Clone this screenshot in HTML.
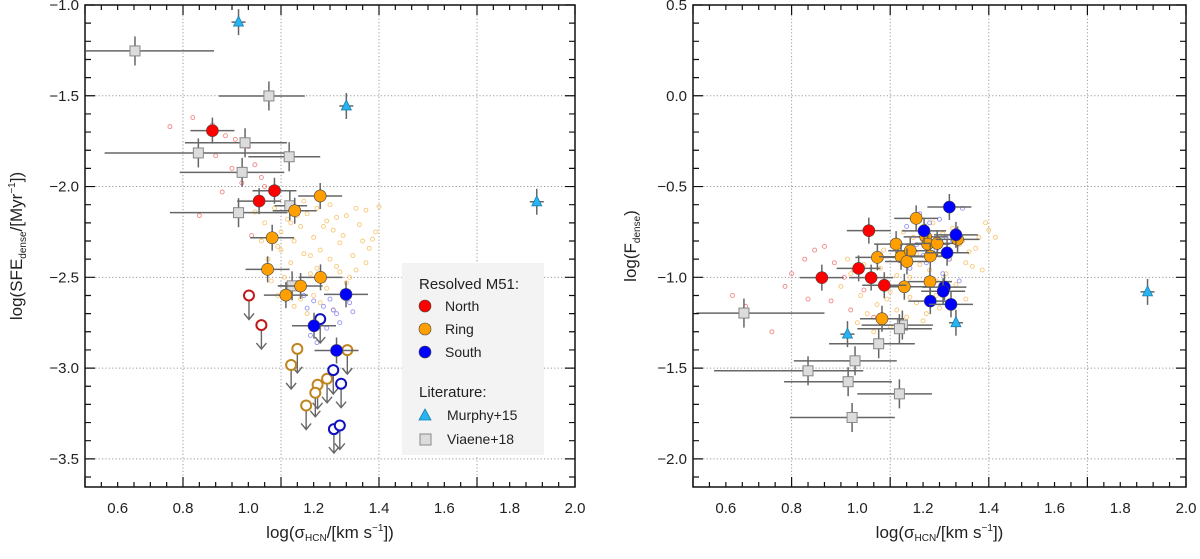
<!DOCTYPE html>
<html><head><meta charset="utf-8"><style>
html,body{margin:0;padding:0;background:#fff;}
svg{display:block;font-family:"Liberation Sans",sans-serif;}
</style></head><body>
<svg id="fig" width="1200" height="559" viewBox="0 0 1200 559"></svg>
<script>
// ---------- Left panel data: log SFE_dense ----------
const L_northX=[0.89,1.08,1.033];
const L_northY=[-1.692,-2.023,-2.08];
const L_ringX=[1.22,1.142,1.073,1.059,1.221,1.16,1.115];
const L_ringY=[-2.052,-2.133,-2.282,-2.456,-2.5,-2.548,-2.598];
const L_southX=[1.299,1.201,1.27];
const L_southY=[-2.594,-2.767,-2.903];
const L_northLimX=[1.002,1.04];
const L_northLimY=[-2.6,-2.763];
const L_ringLimX=[1.15,1.303,1.131,1.241,1.212,1.205,1.177];
const L_ringLimY=[-2.894,-2.901,-2.983,-3.059,-3.092,-3.136,-3.206];
const L_southLimX=[1.22,1.26,1.284,1.262,1.28];
const L_southLimY=[-2.73,-3.011,-3.086,-3.336,-3.316];
const L_murphyX=[0.97,1.30,1.883];
const L_murphyY=[-1.094,-1.556,-2.084];
const L_viaeneX=[0.653,1.063,0.847,0.99,1.125,0.981,0.97,1.127,1.134];
const L_viaeneY=[-1.253,-1.501,-1.815,-1.759,-1.836,-1.922,-2.144,-2.106,-2.547];
const L_viaeneXlo=[0.503,0.91,0.56,0.806,1.0,0.79,0.76,1.08,1.09];
const L_viaeneXhi=[0.895,1.173,1.12,1.118,1.22,1.11,1.12,1.18,1.18];
const L_smallRedX=[0.83,0.89,0.93,0.96,1.0,0.9,0.95,1.02,1.04,0.98,1.05,0.76,0.85,0.92,1.01];
const L_smallRedY=[-1.62,-1.66,-1.72,-1.74,-1.78,-1.83,-1.9,-1.88,-1.95,-1.98,-2.0,-1.67,-2.16,-2.03,-2.27];
const L_smallOrX=[1.02,1.05,1.08,1.1,1.12,1.14,1.16,1.18,1.2,1.22,1.24,1.26,1.28,1.3,1.32,1.34,1.36,1.38,1.4,1.06,1.09,1.13,1.17,1.21,1.25,1.29,1.33,1.37,1.11,1.15,1.19,1.23,1.27,1.31,1.35,1.12,1.16,1.2,1.24,1.28,1.07,1.14,1.18,1.22,1.26,1.3,1.1,1.13,1.17,1.21,1.25,1.04,1.19,1.23,1.36,1.39,1.15,1.09,1.27,1.33];
const L_smallOrY=[-2.14,-2.2,-2.12,-2.25,-2.18,-2.3,-2.22,-2.15,-2.28,-2.35,-2.19,-2.24,-2.31,-2.16,-2.38,-2.21,-2.13,-2.29,-2.11,-2.4,-2.33,-2.42,-2.37,-2.45,-2.4,-2.27,-2.46,-2.34,-2.5,-2.55,-2.48,-2.52,-2.44,-2.5,-2.3,-2.58,-2.62,-2.6,-2.56,-2.47,-2.52,-2.66,-2.7,-2.64,-2.68,-2.53,-2.35,-2.2,-2.08,-2.12,-2.1,-2.3,-2.38,-2.22,-2.42,-2.25,-2.16,-2.6,-2.17,-2.12];
const L_smallBlX=[1.17,1.2,1.23,1.25,1.27,1.29,1.31,1.22,1.26,1.28,1.19,1.24,1.3,1.21,1.32,1.18];
const L_smallBlY=[-2.6,-2.63,-2.66,-2.62,-2.7,-2.58,-2.64,-2.72,-2.68,-2.75,-2.82,-2.78,-2.62,-2.86,-2.69,-2.67];

// ---------- Right panel data: log F_dense ----------
const R_northX=[1.035,0.892,1.004,1.042,1.082];
const R_northY=[-0.743,-1.002,-0.951,-1.002,-1.044];
const R_ringX=[1.179,1.118,1.061,1.133,1.161,1.151,1.208,1.214,1.243,1.222,1.305,1.143,1.221,1.075];
const R_ringY=[-0.675,-0.817,-0.89,-0.887,-0.854,-0.913,-0.777,-0.817,-0.813,-0.883,-0.791,-1.052,-1.024,-1.228];
const R_southX=[1.28,1.203,1.3,1.273,1.265,1.261,1.222,1.285];
const R_southY=[-0.613,-0.744,-0.766,-0.865,-1.054,-1.077,-1.131,-1.149];
const R_murphyX=[0.97,1.30,1.883];
const R_murphyY=[-1.313,-1.25,-1.08];
const R_viaeneX=[0.655,1.137,1.128,1.065,0.993,0.85,0.972,1.128,0.984];
const R_viaeneY=[-1.197,-1.263,-1.283,-1.366,-1.46,-1.515,-1.575,-1.642,-1.772];
const R_viaeneXlo=[0.51,1.013,1.0,0.914,0.807,0.564,0.777,1.0,0.795];
const R_viaeneXhi=[0.9,1.23,1.227,1.175,1.12,1.018,1.105,1.227,1.114];
const R_smallRedX=[0.62,0.66,0.78,0.8,0.84,0.87,0.9,0.93,0.96,0.99,1.02,0.85,0.92,0.98,0.74,1.05];
const R_smallRedY=[-1.1,-1.16,-1.05,-0.98,-0.9,-0.85,-0.83,-0.92,-1.0,-0.96,-1.07,-1.12,-1.13,-1.18,-1.3,-1.22];
const R_smallOrX=[0.95,0.98,1.01,1.04,1.07,1.1,1.13,1.16,1.19,1.22,1.25,1.28,1.31,1.34,1.37,1.4,1.03,1.06,1.09,1.12,1.15,1.18,1.21,1.24,1.27,1.3,1.33,1.36,1.39,1.08,1.11,1.14,1.17,1.2,1.23,1.26,1.29,1.32,1.35,1.0,1.05,1.1,1.15,1.2,1.25,1.02,1.12,1.18,1.24,1.42,1.38,1.33,1.07,1.16,0.97];
const R_smallOrY=[-1.05,-0.98,-1.1,-1.02,-0.95,-1.08,-0.9,-1.0,-0.93,-0.96,-0.88,-0.9,-0.82,-0.86,-0.78,-0.74,-1.2,-1.15,-1.12,-1.18,-1.06,-1.14,-1.2,-1.1,-0.98,-1.04,-0.92,-0.84,-0.7,-0.85,-0.8,-0.75,-0.78,-0.72,-0.7,-0.76,-0.73,-0.8,-0.94,-1.25,-1.3,-1.27,-1.22,-1.24,-1.17,-0.93,-0.99,-0.87,-1.02,-0.78,-0.96,-1.12,-1.05,-1.11,-0.9];
const R_smallBlX=[1.15,1.19,1.22,1.25,1.27,1.3,1.32,1.18,1.24,1.28,1.21,1.26,1.31,1.2,1.29,1.16];
const R_smallBlY=[-0.72,-0.65,-0.7,-0.68,-0.78,-0.74,-0.62,-0.82,-0.85,-0.9,-0.92,-0.98,-1.02,-0.88,-0.8,-0.95];

const NS="http://www.w3.org/2000/svg";
const svg=document.getElementById('fig');
function el(tag,attrs,parent){const e=document.createElementNS(NS,tag);for(const k in attrs)e.setAttribute(k,attrs[k]);(parent||svg).appendChild(e);return e;}

function makePanel(p){
  const g=el('g',{});
  
  
  const sx=v=>p.x0+(v-p.xmin)/(p.xmax-p.xmin)*(p.x1-p.x0);
  const sy=v=>p.y0+(p.ymax-v)/(p.ymax-p.ymin)*(p.y1-p.y0);
  // gridlines
  [0.8,1.1,1.4,1.7].forEach(v=>{const l=el('line',{x1:sx(v),x2:sx(v),y1:p.y0,y2:p.y1,stroke:'#9a9a9a','stroke-width':1,'stroke-dasharray':'1.2,2.2'},g);
    });
  p.ygrid.forEach(v=>{const l=el('line',{x1:p.x0,x2:p.x1,y1:sy(v),y2:sy(v),stroke:'#9a9a9a','stroke-width':1,'stroke-dasharray':'1.2,2.2'},g);
    });
  // small dots
  const dots=(xs,ys,c,nm)=>xs.forEach((x,i)=>{const d=el('circle',{cx:sx(x),cy:sy(ys[i]),r:2,fill:'none',stroke:c,'stroke-width':0.9,opacity:0.75},g);
    });
  dots(p.smOrX,p.smOrY,'#f7b54a','pixel-ring');
  dots(p.smRedX,p.smRedY,'#f06060','pixel-north');
  dots(p.smBlX,p.smBlY,'#7070f0','pixel-south');
  // viaene
  p.vX.forEach((x,i)=>{const y=p.vY[i];
    const a=el('line',{x1:sx(p.vXlo[i]),x2:sx(p.vXhi[i]),y1:sy(y),y2:sy(y),stroke:'#666','stroke-width':1.5},g);
    
    const b=el('line',{x1:sx(x),x2:sx(x),y1:sy(y+0.08),y2:sy(y-0.08),stroke:'#666','stroke-width':1.5},g);
    
    const r=el('rect',{x:sx(x)-5,y:sy(y)-5,width:10,height:10,fill:'#dcdcdc',stroke:'#888','stroke-width':1},g);
    });
  // murphy
  p.mX.forEach((x,i)=>{const cx=sx(x),cy=sy(p.mY[i]);
    const b=el('path',{d:`M${cx-7},${cy}H${cx+7}M${cx},${cy-13}V${cy+13}`,stroke:'#666','stroke-width':1.5,fill:'none'},g);
    
    const t=el('polygon',{points:`${cx},${cy-6} ${cx+5},${cy+4} ${cx-5},${cy+4}`,fill:'#28b4f0',stroke:'#1a7fb0','stroke-width':0.8},g);
    });
  // upper limits
  const lim=(xs,ys,c,nm)=>xs.forEach((x,i)=>{const cx=sx(x),cy=sy(ys[i]);
    const a=el('path',{d:`M${cx},${cy+5}V${cy+24}M${cx-5},${cy+18}L${cx},${cy+24}L${cx+5},${cy+18}`,stroke:'#666','stroke-width':1.4,fill:'none'},g);
    
    const o=el('circle',{cx:cx,cy:cy,r:5,fill:'#fff',stroke:c,'stroke-width':2},g);
    });
  if(p.limNX){lim(p.limNX,p.limNY,'#c01818','north-limit');lim(p.limRX,p.limRY,'#c0841c','ring-limit');lim(p.limSX,p.limSY,'#1010c0','south-limit');}
  // filled circles
  const pts=(xs,ys,c,nm)=>xs.forEach((x,i)=>{const cx=sx(x),cy=sy(ys[i]);
    const b=el('path',{d:`M${cx-22},${cy}H${cx+22}M${cx},${cy-13}V${cy+13}`,stroke:'#666','stroke-width':1.5,fill:'none'},g);
    
    const o=el('circle',{cx:cx,cy:cy,r:6,fill:c,stroke:'#444','stroke-width':0.6},g);
    });
  pts(p.rX,p.rY,'#ffa000','ring-point');
  pts(p.nX,p.nY,'#ff0000','north-point');
  pts(p.sX,p.sY,'#0000ff','south-point');
  // frame
  const f=el('rect',{x:p.x0,y:p.y0,width:p.x1-p.x0,height:p.y1-p.y0,fill:'none',stroke:'#111','stroke-width':1.5},g);
  
  // x ticks
  for(let k=0;k<=30;k++){const v=p.xmin+k*0.05;const len=(k%6===0)?10:5;const X=sx(v);
    const t=el('path',{d:`M${X},${p.y1}v${-len}M${X},${p.y0}v${len}`,stroke:'#111','stroke-width':1.2},g);
    }
  p.xlabels.forEach(v=>{const t=el('text',{x:sx(v),y:p.y1+26,'text-anchor':'middle','font-size':15,fill:'#222'},g);t.textContent=v.toFixed(1);
    });
  // y ticks
  const n=Math.round((p.ymax-p.ymin)/0.1);
  for(let k=0;k<=n;k++){const v=p.ymax-k*0.1;const major=Math.abs(v*2-Math.round(v*2))<1e-6;const len=major?10:6;const Y=sy(v);
    if(Y>p.y1+0.5)continue;
    const t=el('path',{d:`M${p.x0},${Y}h${len}M${p.x1},${Y}h${-len}`,stroke:'#111','stroke-width':1.2},g);
    }
  p.ylabels.forEach(v=>{const t=el('text',{x:p.x0-6,y:sy(v)+5,'text-anchor':'end','font-size':15,fill:'#222'},g);t.textContent=(v<0?'\u2212':'')+Math.abs(v).toFixed(1);
    });
  // x title
  const xt=el('text',{x:(p.x0+p.x1)/2,y:p.y1+51,'text-anchor':'middle','font-size':17,fill:'#222'},g);
  xt.innerHTML='log(\u03c3<tspan font-size="10" dy="3">HCN</tspan><tspan dy="-3">/[km s</tspan><tspan font-size="10" dy="-7">\u22121</tspan><tspan dy="7">])</tspan>';
  
  const yt=el('text',{x:0,y:0,'text-anchor':'middle','font-size':17,fill:'#222',transform:`translate(${p.ytx},${(p.y0+p.y1)/2}) rotate(-90)`},g);
  yt.innerHTML=p.ytitle;
  
}

makePanel({name:'sfe-panel',x0:85,x1:575,y0:5,y1:487,xmin:0.5,xmax:2.0,ymin:-3.655,ymax:-1.0,
  ygrid:[-1.5,-2.0,-2.5,-3.0,-3.5],xlabels:[0.6,0.8,1.0,1.2,1.4,1.6,1.8,2.0],ylabels:[-1.0,-1.5,-2.0,-2.5,-3.0,-3.5],
  nX:L_northX,nY:L_northY,rX:L_ringX,rY:L_ringY,sX:L_southX,sY:L_southY,
  limNX:L_northLimX,limNY:L_northLimY,limRX:L_ringLimX,limRY:L_ringLimY,limSX:L_southLimX,limSY:L_southLimY,
  mX:L_murphyX,mY:L_murphyY,vX:L_viaeneX,vY:L_viaeneY,vXlo:L_viaeneXlo,vXhi:L_viaeneXhi,
  smRedX:L_smallRedX,smRedY:L_smallRedY,smOrX:L_smallOrX,smOrY:L_smallOrY,smBlX:L_smallBlX,smBlY:L_smallBlY,
  ytx:22,ytitle:'log(SFE<tspan font-size="10" dy="4">dense</tspan><tspan dy="-4">/[Myr</tspan><tspan font-size="10" dy="-7">\u22121</tspan><tspan dy="7">])</tspan>'});

makePanel({name:'fdense-panel',x0:693,x1:1186,y0:5,y1:487,xmin:0.5,xmax:2.0,ymin:-2.155,ymax:0.5,
  ygrid:[0.0,-0.5,-1.0,-1.5,-2.0],xlabels:[0.6,0.8,1.0,1.2,1.4,1.6,1.8,2.0],ylabels:[0.5,0.0,-0.5,-1.0,-1.5,-2.0],
  nX:R_northX,nY:R_northY,rX:R_ringX,rY:R_ringY,sX:R_southX,sY:R_southY,
  mX:R_murphyX,mY:R_murphyY,vX:R_viaeneX,vY:R_viaeneY,vXlo:R_viaeneXlo,vXhi:R_viaeneXhi,
  smRedX:R_smallRedX,smRedY:R_smallRedY,smOrX:R_smallOrX,smOrY:R_smallOrY,smBlX:R_smallBlX,smBlY:R_smallBlY,
  ytx:636,ytitle:'log(F<tspan font-size="10" dy="4">dense</tspan><tspan dy="-4">)</tspan>'});

// ---------- legend ----------
const lg=el('g',{});


el('rect',{x:402,y:263,width:142,height:192,fill:'#f3f3f3'},lg);
function ltxt(x,y,s,size,nm){const t=el('text',{x:x,y:y,'font-size':size,fill:'#222'},lg);t.textContent=s;
  }
ltxt(419,289,'Resolved M51:',15,'legend-title-resolved');
[['North','#ff0000',306],['Ring','#ffa000',329],['South','#0000ff',352]].forEach(e=>{
  const c=el('circle',{cx:425,cy:e[2],r:6,fill:e[1],stroke:'#444','stroke-width':0.6},lg);
  
  ltxt(445,e[2]+5,e[0],14,'legend-entry-'+e[0].toLowerCase());});
ltxt(419,397,'Literature:',15,'legend-title-literature');
const lt=el('polygon',{points:'425,409 431,420 419,420',fill:'#28b4f0',stroke:'#1a7fb0','stroke-width':0.8},lg);

ltxt(447,420,'Murphy+15',14,'legend-entry-murphy');
const ls=el('rect',{x:420,y:434,width:11,height:11,fill:'#dcdcdc',stroke:'#888','stroke-width':1},lg);

ltxt(447,444,'Viaene+18',14,'legend-entry-viaene');
</script>
</body></html>
